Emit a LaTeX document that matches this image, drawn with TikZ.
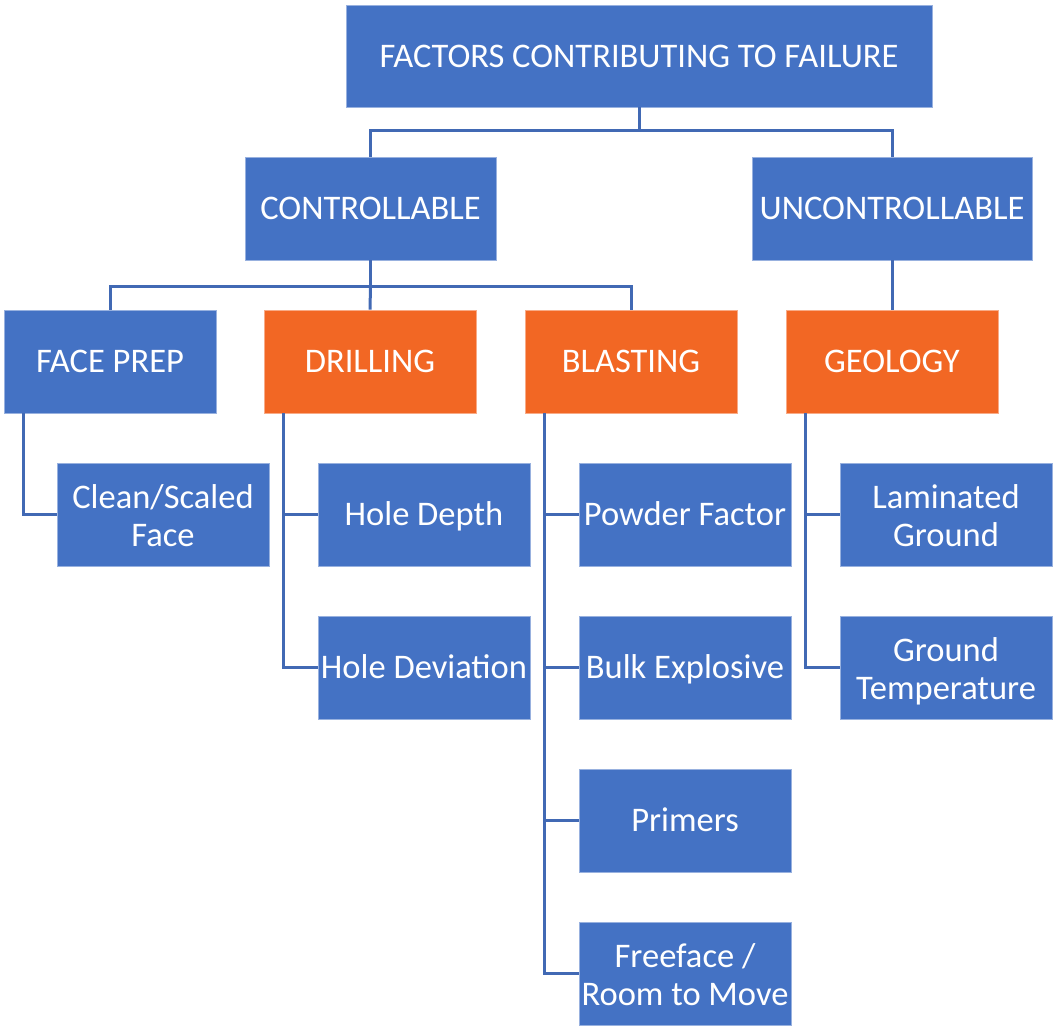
\documentclass[tikz,border=0pt]{standalone}
\usepackage{fontspec}
\setmainfont{Carlito}
\definecolor{boxblue}{HTML}{4472C4}
\definecolor{boxorange}{HTML}{F26724}
\definecolor{linkblue}{HTML}{4169B4}
% line struts: fix the height and depth of the text lines
\newcommand\ls{\vrule height30pt depth8pt width0pt}
\newcommand\lsb{\vrule height33.5pt depth8pt width0pt}
\begin{document}
\begin{tikzpicture}[x=1pt,y=-1pt,
  box/.style={rectangle, fill=boxblue, draw=boxblue!55!white, line width=0.8pt,
    text=white, font=\fontsize{34.5}{38}\selectfont, align=center,
    minimum width=212pt, minimum height=103pt, inner sep=1pt,
    execute at begin node=\ls},
  hot/.style={box, fill=boxorange, draw=boxorange!55!white},
  link/.style={draw=linkblue, line width=3pt}]
\useasboundingbox (0,0) rectangle (1053,1026);

% root and first level
\node[box, minimum width=586pt, minimum height=102pt] (root) at (639,56) {FACTORS CONTRIBUTING TO FAILURE};
\node[box, minimum width=251pt] (ctrl) at (370.5,208.5) {CONTROLLABLE};
\node[box, minimum width=280pt] (unctrl) at (892,208.5) {UNCONTROLLABLE};

% second level
\node[box] (face) at (110,361.5) {FACE PREP};
\node[hot] (drill) at (370,361.5) {DRILLING};
\node[hot] (blast) at (631,361.5) {BLASTING};
\node[hot] (geo) at (892,361.5) {GEOLOGY};

% leaves
\node[box] (clean) at (163,514.5) {\lsb Clean/Scaled\\\ls Face};
\node[box] (depth) at (424,514.5) {Hole Depth};
\node[box] (dev) at (424,667.5) {Hole Deviation};
\node[box] (powder) at (685,514.5) {Powder Factor};
\node[box] (bulk) at (685,667.5) {Bulk Explosive};
\node[box] (prim) at (685,820.5) {Primers};
\node[box] (free) at (685,973.5) {\lsb Freeface /\\\ls Room to Move};
\node[box] (lam) at (946,514.5) {\lsb Laminated\\\ls Ground};
\node[box] (temp) at (946,667.5) {\lsb Ground\\\ls Temperature};

% tree connectors
\draw[link] (root.south) -- ++(0,23) coordinate (r1) -| (ctrl.north);
\draw[link] (r1) -| (unctrl.north);
\draw[link] (ctrl.south) -- ++(0,26) coordinate (c1) -| (face.north);
\draw[link] (c1) -| (blast.north);
\draw[link] (c1) -- (drill.north);
\draw[link] (unctrl.south) -- (geo.north);

% side connectors
\draw[link] ([xshift=20pt]face.south west) |- (clean.west);
\draw[link] ([xshift=20pt]drill.south west) |- (dev.west);
\draw[link] ([xshift=20pt]drill.south west) |- (depth.west);
\draw[link] ([xshift=20pt]blast.south west) |- (free.west);
\foreach \n in {powder,bulk,prim}
  \draw[link] ([xshift=20pt]blast.south west) |- (\n.west);
\draw[link] ([xshift=20pt]geo.south west) |- (temp.west);
\draw[link] ([xshift=20pt]geo.south west) |- (lam.west);
\end{tikzpicture}
\end{document}
